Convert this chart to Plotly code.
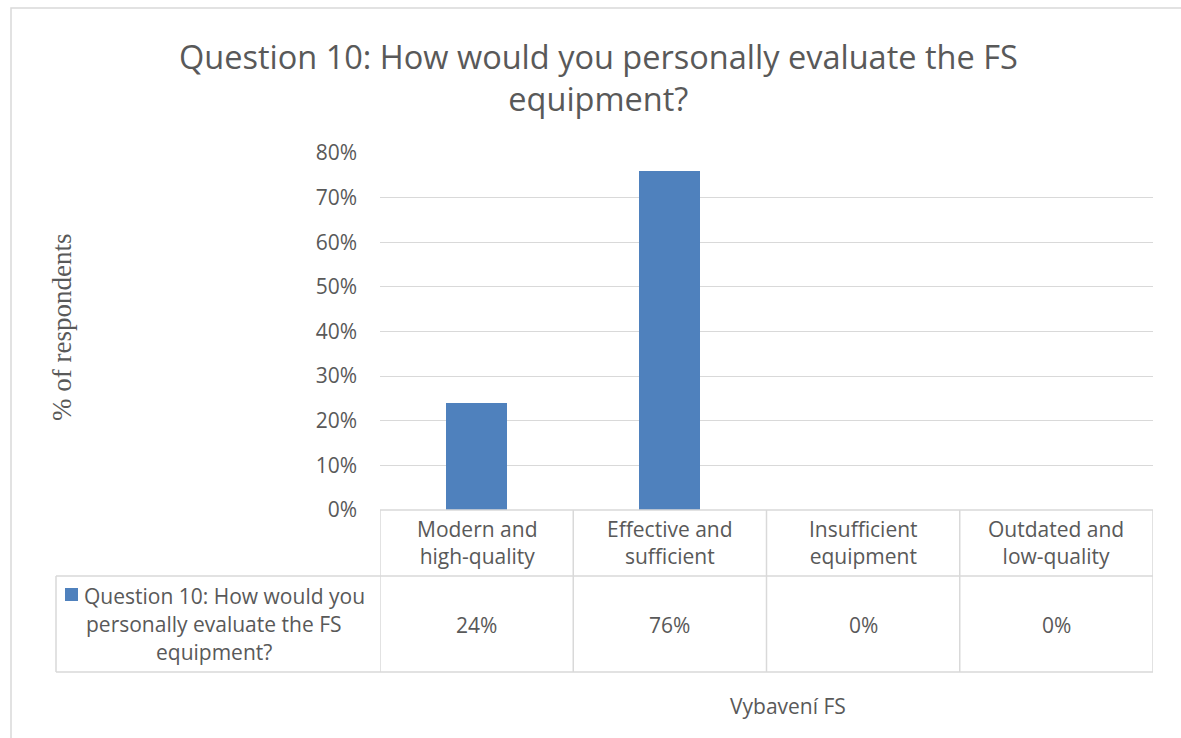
import plotly.graph_objects as go

# Survey results for question 10
categories = ["Modern and<br>high-quality", "Effective and<br>sufficient",
              "Insufficient<br>equipment", "Outdated and<br>low-quality"]
values = [0.24, 0.76, 0.0, 0.0]
series_name = "Question 10: How would you<br>personally evaluate the FS<br>equipment?"
chart_title = "Question 10: How would you personally evaluate the FS<br>equipment?"
y_title = "% of respondents"
x_title = "Vybavení FS"
y_ticks = [0, 0.1, 0.2, 0.3, 0.4, 0.5, 0.6, 0.7, 0.8]

W, H = 1181, 738
L, R, T, B = 380, 1153, 153, 510  # plot area in pixels

TEXT = "#595959"
GRID = "#d9d9d9"
BAR = "#4f81bd"
FONT = "Open Sans"


def px(x):
    return (x - L) / (R - L)


def py(y):
    return (B - y) / (B - T)


def label(x, y, text, size, xref="paper", family=FONT, **kw):
    return dict(x=x, y=y, xref=xref, yref="paper", text=text, showarrow=False,
                xanchor="center", yanchor="middle", align="center",
                font=dict(family=family, size=size, color=TEXT), **kw)


n = len(categories)
x_idx = list(range(n))

fig = go.Figure()
fig.add_trace(go.Bar(x=x_idx, y=values, width=0.316, marker_color=BAR,
                     marker_line_width=0, name=series_name.replace("<br>", " ")))

shapes = []
line = dict(color=GRID, width=1.5)
# outer chart border
shapes.append(dict(type="rect", xref="paper", yref="paper",
                   x0=px(11), x1=px(1190), y0=py(8), y1=py(750),
                   line=dict(color=GRID, width=1.5), layer="below"))
# data table: horizontal rules
shapes.append(dict(type="line", xref="paper", yref="paper", x0=0, x1=1,
                   y0=0, y1=0, line=line))
for yy in (576, 672):
    shapes.append(dict(type="line", xref="paper", yref="paper", x0=px(56), x1=1,
                       y0=py(yy), y1=py(yy), line=line))
# data table: column rules
for i in range(n + 1):
    shapes.append(dict(type="line", xref="x", yref="paper", x0=i - 0.5, x1=i - 0.5,
                       y0=0, y1=py(672), line=line))
shapes.append(dict(type="line", xref="paper", yref="paper", x0=px(56), x1=px(56),
                   y0=py(576), y1=py(672), line=line))
# legend key in the table
shapes.append(dict(type="rect", xref="paper", yref="paper",
                   x0=px(65), x1=px(78), y0=py(588), y1=py(601),
                   fillcolor=BAR, line=dict(width=0)))

annotations = []
for i, (c, v) in enumerate(zip(categories, values)):
    annotations.append(label(i, py(542), c, 21, xref="x"))
    annotations.append(label(i, py(625), f"{v:.0%}", 21, xref="x"))

legend_lines = series_name.split("<br>")
for k, ln in enumerate(legend_lines):
    cx = 224 if k == 0 else 214
    annotations.append(label(px(cx), py(596 + 28 * k), ln, 21))

annotations.append(label(px(598), py(77), chart_title, 32.5))
annotations.append(label(px(62), py(328), y_title, 27, family="Liberation Serif",
                         textangle=-90))
annotations.append(label(px(788), py(706), x_title, 21))

fig.update_layout(
    width=W, height=H,
    margin=dict(l=L, r=W - R, t=T, b=H - B, pad=0),
    paper_bgcolor="white", plot_bgcolor="white",
    showlegend=False,
    shapes=shapes, annotations=annotations,
    xaxis=dict(range=[-0.5, n - 0.5], showticklabels=False, showgrid=False,
               zeroline=False, showline=False, fixedrange=True),
    yaxis=dict(range=[0, 0.8], tickvals=y_ticks, tickformat=".0%",
               showgrid=True, gridcolor=GRID, gridwidth=1.2, zeroline=False,
               showline=False, ticks="", ticklabelstandoff=22,
               tickfont=dict(family=FONT, size=21, color=TEXT)),
    bargap=0,
)

fig.write_html("out.html")
